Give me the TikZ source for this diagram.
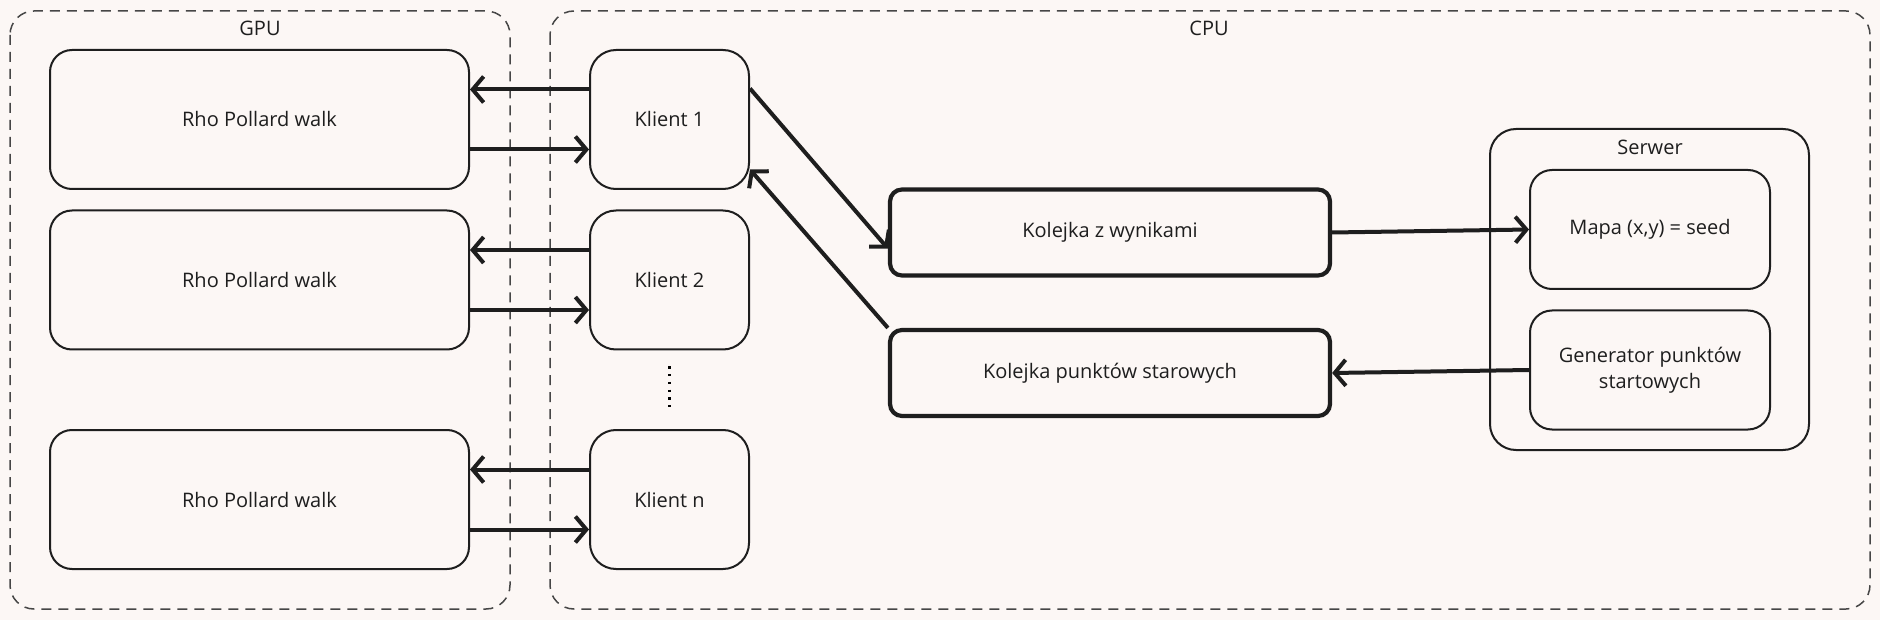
\documentclass[tikz,border=0pt]{standalone}
\usepackage{fontspec}
\setmainfont{Open Sans}
\usetikzlibrary{arrows.meta}
\definecolor{paper}{RGB}{252,247,245}
\definecolor{ink}{RGB}{30,30,30}
\definecolor{frame}{RGB}{70,70,70}

\begin{document}
\begin{tikzpicture}[x=1pt,y=-1pt,
  every node/.style={font=\fontsize{20}{26}\selectfont,text=ink},
  box/.style={draw=ink,line width=2pt,rounded corners=22pt,align=center,inner sep=0pt},
  walk/.style={box,minimum width=419pt,minimum height=139pt},
  client/.style={box,rounded corners=26pt,minimum width=159pt,minimum height=139pt},
  queue/.style={box,line width=4.2pt,rounded corners=12pt,minimum width=440pt,minimum height=86pt},
  part/.style={box,minimum width=240pt,minimum height=119pt},
  zone/.style={draw=frame,line width=1.5pt,dash pattern=on 10pt off 7pt,rounded corners=24pt},
  link/.style={draw=ink,line width=4pt,-{Straight Barb[length=11pt,width=26pt]}}]
  \fill[paper] (0,0) rectangle (1880,620);
  \useasboundingbox (0,0) rectangle (1880,620);

  % GPU and CPU areas
  \draw[zone] (10,11) rectangle (510,609);
  \draw[zone] (550,11) rectangle (1870,609);
  \node (gpu) at (260,28) {GPU};
  \node (cpu) at (1209,28) {CPU};

  \foreach \i/\y in {1/119.5, 2/280, n/499.5} {
    \node[walk] (rho\i) at (259.5,\y) {Rho Pollard walk};
    \node[client] (kl\i) at (669.5,\y) {Klient \i};
    \draw[link] ([yshift=30pt]kl\i.west) -- ([yshift=30pt]rho\i.east);
    \draw[link] ([yshift=-30pt]rho\i.east) -- ([yshift=-30pt]kl\i.west);
  }
  \draw[line width=2.2pt,dash pattern=on 2.2pt off 5.5pt] ([yshift=-16pt]kl2.south) -- ([yshift=19pt]kln.north);

  % queues
  \node[queue] (wyn) at (1110,232.5) {Kolejka z wynikami};
  \node[queue] (start) at (1110,373) {Kolejka punktów starowych};

  % server
  \node[box,rounded corners=26pt,minimum width=319pt,minimum height=321pt] (srv) at (1649.5,289.5) {};
  \node (srvlabel) at (1650,147) {Serwer};
  \node[part] (mapa) at (1650,229.5) {Mapa (x,y) = seed};
  \node[part] (gen) at (1650,370) {Generator punktów\\startowych};

  \draw[link] ([yshift=31pt]kl1.east) -- ([yshift=-16pt]wyn.west);
  \draw[link] (start.north west) -- ([yshift=-50pt]kl1.east);
  \draw[link] (wyn.east) -- (mapa.west);
  \draw[link] (gen.west) -- (start.east);
\end{tikzpicture}
\end{document}
